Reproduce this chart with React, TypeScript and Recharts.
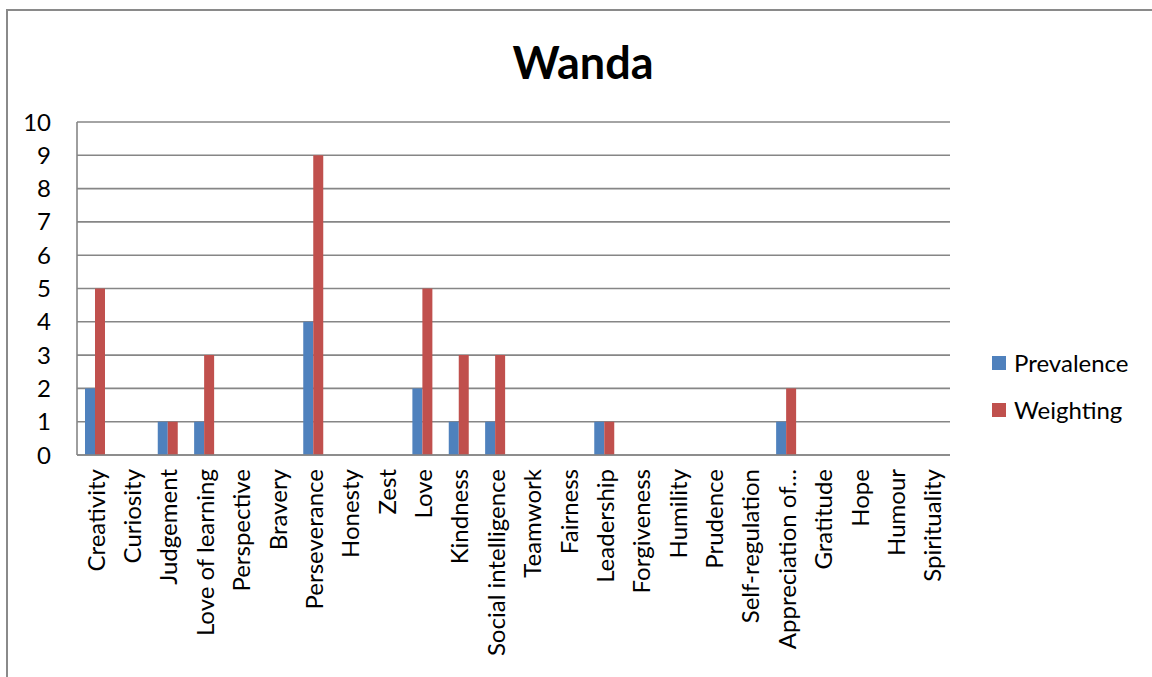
import React from "react";
import { BarChart, Bar, XAxis, YAxis, CartesianGrid } from "recharts";

const categories = [
  "Creativity", "Curiosity", "Judgement", "Love of learning", "Perspective", "Bravery",
  "Perseverance", "Honesty", "Zest", "Love", "Kindness", "Social intelligence",
  "Teamwork", "Fairness", "Leadership", "Forgiveness", "Humility", "Prudence",
  "Self-regulation", "Appreciation of…", "Gratitude", "Hope", "Humour", "Spirituality",
];
const prevalence = [2, 0, 1, 1, 0, 0, 4, 0, 0, 2, 1, 1, 0, 0, 1, 0, 0, 0, 0, 1, 0, 0, 0, 0];
const weighting = [5, 0, 1, 3, 0, 0, 9, 0, 0, 5, 3, 3, 0, 0, 1, 0, 0, 0, 0, 2, 0, 0, 0, 0];
const yTicks = [0, 1, 2, 3, 4, 5, 6, 7, 8, 9, 10];
const seriesNames = ["Prevalence", "Weighting"];

const FONT = "Lato, 'Open Sans', sans-serif";
const BLUE = "#4F81BD";
const RED = "#C0504D";
const GRID = "#868686";
const seriesColors = [BLUE, RED];

const data = categories.map((name, i) => ({
  name,
  Prevalence: prevalence[i],
  Weighting: weighting[i],
}));

const XTick = (props: any) => {
  const { x, y, payload } = props;
  return (
    <text
      x={x}
      y={y}
      transform={`rotate(-90, ${x}, ${y})`}
      textAnchor="end"
      dominantBaseline="central"
      fontSize={24}
      fontFamily={FONT}
      fill="#000"
    >
      {payload.value}
    </text>
  );
};

export default function App() {
  return (
    <div style={{ position: "fixed", left: 0, top: 0, width: 1152, height: 677, background: "#fff", overflow: "hidden" }}>
      <div
        style={{
          position: "absolute",
          left: 6,
          top: 9,
          width: 1160,
          height: 690,
          border: "2px solid #8a8a8a",
          boxSizing: "border-box",
        }}
      />
      <div
        style={{
          position: "absolute",
          left: 0,
          top: 35,
          width: 1166,
          textAlign: "center",
          fontFamily: FONT,
          fontWeight: 700,
          fontSize: 45,
          color: "#000",
        }}
      >
        Wanda
      </div>
      <div style={{ position: "absolute", left: 0, top: 0 }}>
        <BarChart
          width={1152}
          height={677}
          data={data}
          margin={{ top: 122, right: 202, bottom: 0, left: 0 }}
          barCategoryGap="22%"
          barGap={0}
        >
          <CartesianGrid horizontal vertical={false} stroke={GRID} strokeWidth={1.6} />
          <XAxis
            dataKey="name"
            interval={0}
            height={222}
            tickLine={false}
            tickSize={0}
            tickMargin={14}
            axisLine={{ stroke: GRID, strokeWidth: 1.6 }}
            tick={<XTick />}
          />
          <YAxis
            width={77}
            domain={[0, 10]}
            ticks={yTicks}
            interval={0}
            tickLine={false}
            tickSize={0}
            tickMargin={26}
            axisLine={{ stroke: GRID, strokeWidth: 1.6 }}
            tick={{ fontSize: 24, fontFamily: FONT, fill: "#000" }}
          />
          <Bar dataKey="Prevalence" fill={BLUE} isAnimationActive={false} />
          <Bar dataKey="Weighting" fill={RED} isAnimationActive={false} />
        </BarChart>
      </div>
      <div style={{ position: "absolute", left: 992, top: 339, fontFamily: FONT, fontSize: 24, color: "#000" }}>
        {seriesNames.map((label, i) => (
          <div key={label} style={{ display: "flex", alignItems: "center", height: 47 }}>
            <span style={{ width: 14, height: 14, background: seriesColors[i], marginRight: 8, display: "inline-block" }} />
            <span>{label}</span>
          </div>
        ))}
      </div>
    </div>
  );
}
